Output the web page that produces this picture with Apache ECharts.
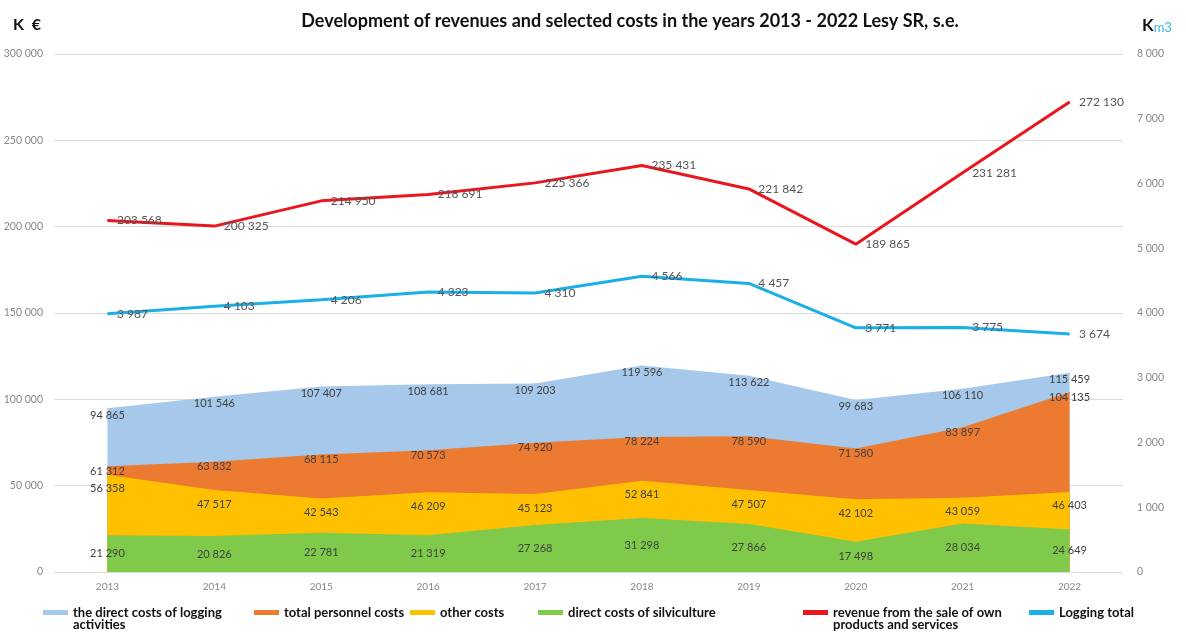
<!DOCTYPE html>
<html><head><meta charset="utf-8">
<script src="https://cdn.jsdelivr.net/npm/echarts@6/dist/echarts.min.js"></script>
<style>html,body{margin:0;padding:0;background:#fff}#c{width:1186px;height:636px}</style>
</head><body><div id="c"></div>
<script>
const years = ['2013','2014','2015','2016','2017','2018','2019','2020','2021','2022'];
const loggingCosts = [94865,101546,107407,108681,109203,119596,113622,99683,106110,115459];
const personnelCosts = [61312,63832,68115,70573,74920,78224,78590,71580,83897,104135];
const otherCosts = [56358,47517,42543,46209,45123,52841,47507,42102,43059,46403];
const silvicultureCosts = [21290,20826,22781,21319,27268,31298,27866,17498,28034,24649];
const revenue = [203568,200325,214950,218691,225366,235431,221842,189865,231281,272130];
const loggingTotal = [3987,4103,4206,4323,4310,4566,4457,3771,3775,3674];
const names = ['the direct costs of logging activities','total personnel costs','other costs','direct costs of silviculture','revenue from the sale of own products and services','Logging total'];

const FONT = 'Lato';
const fmt = v => String(v).replace(/\B(?=(\d{3})+(?!\d))/g, ' ');
const labelBase = {show:true, color:'#404040', fontSize:11, fontFamily:FONT, formatter: p => fmt(p.value)};

function area(name, data, color, dist){
  return {name, type:'line', data, symbol:'circle', symbolSize:1, showSymbol:true, lineStyle:{width:0}, itemStyle:{color},
    areaStyle:{color, opacity:1}, label:Object.assign({}, labelBase, {position:'bottom', distance:dist}), z:2};
}

const chart = echarts.init(document.getElementById('c'), null, {renderer:'canvas'});
const legendText = {fontFamily:FONT, fontSize:13, color:'#111', fontWeight:'bold'};
function leg(i, left, label){
  return {data:[{name:names[i], icon:'rect'}], left, top:601, itemWidth:25, itemHeight:5, itemGap:0,
    selectedMode:false, formatter: () => label, textStyle: legendText};
}
chart.setOption({
  animation:false,
  backgroundColor:'#fff',
  title:{text:'Development of revenues and selected costs in the years 2013 - 2022 Lesy SR, s.e.', left:625, textAlign:'center', top:7,
    textStyle:{fontFamily:FONT, fontWeight:'bold', fontSize:18, color:'#111'}},
  graphic:[
    {type:'text', left:13, top:17, style:{text:'K  €', font:'bold 16px Lato', fill:'#111'}},
    {type:'text', left:1142, top:17, style:{rich:{a:{font:'bold 17px Lato', fill:'#111'}, b:{font:'13px Lato', fill:'#3BB8E0', padding:[5,0,0,0]}}, text:'{a|K}{b|m3}'}},
    {type:'text', left:73, top:618, style:{text:'activities', font:'bold 13px Lato', fill:'#111'}},
    {type:'text', left:833, top:618, style:{text:'products and services', font:'bold 13px Lato', fill:'#111'}}
  ],
  legend:[
    leg(0, 38, 'the direct costs of logging'),
    leg(1, 249, 'total personnel costs'),
    leg(2, 405, 'other costs'),
    leg(3, 533, 'direct costs of silviculture'),
    leg(4, 798, 'revenue from the sale of own'),
    leg(5, 1024, 'Logging total')
  ],
  grid:{left:54, right:63, top:54, bottom:64},
  xAxis:{type:'category', data:years, boundaryGap:true,
    axisLine:{show:false}, axisTick:{show:false},
    axisLabel:{color:'#888', fontSize:10, fontFamily:FONT, margin:10}},
  yAxis:[
    {type:'value', min:0, max:300000, interval:50000, position:'left',
      axisLabel:{color:'#888', fontSize:10.5, fontFamily:FONT, formatter: v => fmt(v), margin:11},
      splitLine:{lineStyle:{color:'#dcdcdc', width:1}}, axisLine:{show:false}, axisTick:{show:false}},
    {type:'value', min:0, max:8000, interval:1000, position:'right',
      axisLabel:{color:'#888', fontSize:10.5, fontFamily:FONT, formatter: v => fmt(v), margin:14},
      splitLine:{show:false}, axisLine:{show:false}, axisTick:{show:false}}
  ],
  series:[
    area(names[0], loggingCosts, '#A6C8EA', 1),
    area(names[1], personnelCosts, '#EC7A30', -1),
    area(names[2], otherCosts, '#FFC000', 8),
    Object.assign(area(names[3], silvicultureCosts, '#7FC94B', 0), {label:{show:false}}),
    {name:'silviculture-labels', type:'line', data:silvicultureCosts.map(v => v / 2), symbol:'circle', symbolSize:1, showSymbol:true,
      lineStyle:{width:0, color:'rgba(0,0,0,0)'}, itemStyle:{color:'rgba(0,0,0,0)'}, silent:true, z:3,
      label:Object.assign({}, labelBase, {position:'inside', formatter: p => fmt(silvicultureCosts[p.dataIndex])})},
    {name:names[4], type:'line', data:revenue, yAxisIndex:0, symbol:'circle', symbolSize:1, itemStyle:{color:'#E8161E'}, lineStyle:{color:'#E8161E', width:3},
      label:Object.assign({}, labelBase, {position:'right', distance:9, fontSize:12, color:'#555'}), z:5},
    {name:names[5], type:'line', data:loggingTotal, yAxisIndex:1, symbol:'circle', symbolSize:1, itemStyle:{color:'#1AAFE6'}, lineStyle:{color:'#1AAFE6', width:3},
      label:Object.assign({}, labelBase, {position:'right', distance:9, fontSize:12, color:'#555'}), z:5}
  ]
});
</script></body></html>
